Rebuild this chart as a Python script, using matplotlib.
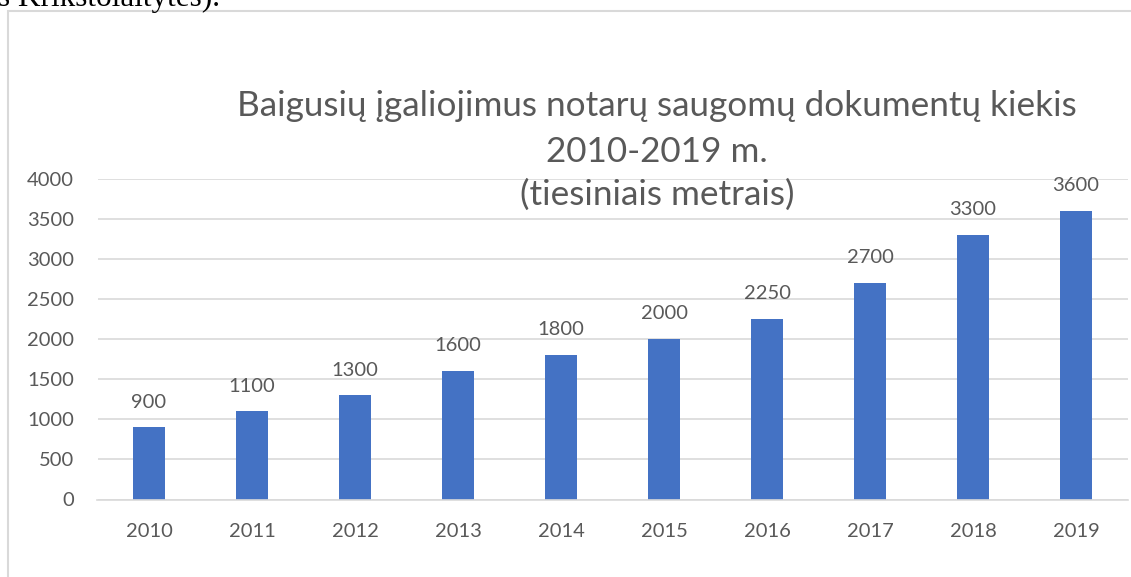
import matplotlib
matplotlib.use("Agg")
import matplotlib.pyplot as plt
from matplotlib.patches import Rectangle

# Données : documents des notaires (mètres linéaires)
annees = ["2010", "2011", "2012", "2013", "2014", "2015", "2016", "2017", "2018", "2019"]
metrai = [900, 1100, 1300, 1600, 1800, 2000, 2250, 2700, 3300, 3600]
y_ticks = [0, 500, 1000, 1500, 2000, 2500, 3000, 3500, 4000]
titre = ["Baigusių įgaliojimus notarų saugomų dokumentų kiekis",
         "2010-2019 m.",
         "(tiesiniais metrais)"]

W, H = 1131, 577
gris_texte = "#595959"
gris_ligne = "#d9d9d9"
bleu = "#4472C4"

plt.rcParams['font.family'] = ['Lato', 'DejaVu Sans']

fig = plt.figure(figsize=(W / 100, H / 100), dpi=100)

# cadre du graphique (coupé à droite et en bas)
fig.patches.append(Rectangle((8 / W, -0.05), 1.2, (H - 11) / H + 0.05, transform=fig.transFigure,
                             fill=False, edgecolor=gris_ligne, linewidth=1.5))

# bout de texte du document au-dessus, coupé
fig.text(-2 / W, 1 - 6 / H, "s Krikštolaitytės).", family=['Liberation Serif'], fontsize=22.5,
         color='black', ha='left', va='baseline')

ax = fig.add_axes([97.5 / W, (H - 499.5) / H, 1030 / W, 321 / H])
x = range(len(annees))
barres = ax.bar(x, metrai, width=0.31, color=bleu, zorder=3)
ax.bar_label(barres, labels=[str(v) for v in metrai], padding=12, fontsize=14.5, color=gris_texte)

ax.set_xlim(-0.5, len(annees) - 0.5)
ax.set_ylim(0, 4000)
ax.set_xticks(list(x))
ax.set_xticklabels(annees)
ax.set_yticks(y_ticks)
ax.tick_params(axis='both', length=0, labelsize=14.5, labelcolor=gris_texte)
ax.tick_params(axis='y', pad=17)
ax.tick_params(axis='x', pad=17)
ax.grid(axis='y', color=gris_ligne, linewidth=1.2, zorder=0)
for s in ['top', 'right', 'left']:
    ax.spines[s].set_visible(False)
ax.spines['bottom'].set_color(gris_ligne)
ax.spines['bottom'].set_linewidth(1.2)
ax.spines['bottom'].set_zorder(4)
ax.set_facecolor('none')

# titre sur trois lignes
for ligne, yy in zip(titre, [106, 152, 195]):
    fig.text(657 / W, 1 - yy / H, ligne, fontsize=25.3, color=gris_texte, ha='center', va='center')

fig.savefig("out.png", dpi=100)
